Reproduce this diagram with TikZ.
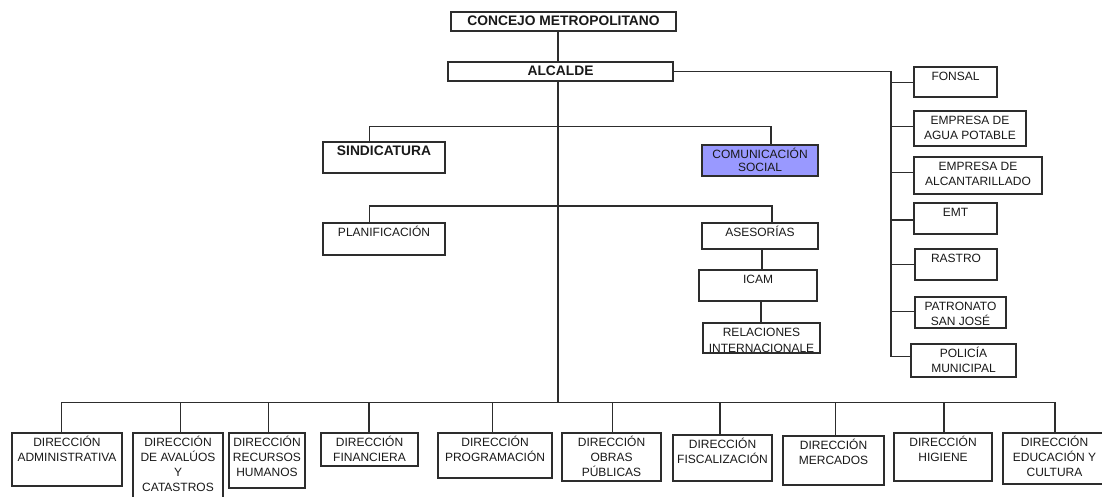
\documentclass[tikz,border=0pt]{standalone}
\usepackage{fontspec}
\setmainfont{Liberation Sans}
\usetikzlibrary{backgrounds}
\definecolor{ln}{RGB}{45,45,45}
\definecolor{comfill}{RGB}{153,153,255}
\newcommand{\bfnt}{\fontsize{13.8}{15}\selectfont\bfseries}
\newcommand{\obox}[7][]{%
  \pgfmathsetmacro\obw{#5-#3}%
  \pgfmathsetmacro\obh{#6-#4}%
  \node[orgbox,#1,minimum width=\obw pt,minimum height=\obh pt,anchor=north west] (#2) at (#3,#4) {};
  \node[orglbl,anchor=north] (#2-t) at ([yshift=-1.5pt]#2.north) {\rule{0pt}{11.5pt}#7};
}
\begin{document}
\begin{tikzpicture}[x=1pt,y=-1pt,
  orgbox/.style={draw=ln,line width=1.4pt,fill=white,inner sep=0pt,outer sep=0pt},
  orglbl/.style={inner sep=0pt,align=center,font=\fontsize{12}{15}\selectfont,text=black!90},
  conn/.style={draw=ln,line width=1.4pt}]
\useasboundingbox (0,0) rectangle (1102,497);
\begin{scope}[on background layer]
  \fill[white] (0,0) rectangle (1102,497);
\end{scope}
% top
\obox{conc}{451}{12}{676}{31}{\bfnt CONCEJO METROPOLITANO}
\obox{alc}{448}{62}{673}{81}{\bfnt ALCALDE}
\obox{sind}{323}{142}{445}{173}{\bfnt SINDICATURA}
\obox[fill=comfill]{comu}{702}{145}{818}{176}{COMUNICACIÓN\\[-2pt]SOCIAL}
\obox{plan}{323}{223}{445}{255}{PLANIFICACIÓN}
\obox{ases}{702}{223}{818}{249}{ASESORÍAS}
\obox{icam}{699}{270}{817}{301}{ICAM}
\obox{rel}{703}{323}{820}{353}{RELACIONES\\[1pt]INTERNACIONALE}
% right column
\obox{fonsal}{914}{67}{997}{97}{FONSAL}
\obox{agua}{914}{111}{1026}{146}{EMPRESA DE\\AGUA POTABLE}
\obox{alcan}{914}{157}{1042}{194}{EMPRESA DE\\ALCANTARILLADO}
\obox{emt}{914}{203}{997}{234}{EMT}
\obox{rastro}{915}{249}{997}{280}{RASTRO}
\obox{patro}{915}{297}{1006}{328}{PATRONATO\\SAN JOSÉ}
\obox{pol}{911}{344}{1016}{377}{POLICÍA\\MUNICIPAL}
% bottom row
\obox{adm}{12}{433}{122}{486}{DIRECCIÓN\\ADMINISTRATIVA}
\obox{aval}{133}{433}{223}{500}{DIRECCIÓN\\DE AVALÚOS\\Y\\CATASTROS}
\obox{rrhh}{229}{433}{305}{488}{DIRECCIÓN\\RECURSOS\\HUMANOS}
\obox{fin}{321}{433}{418}{466}{DIRECCIÓN\\FINANCIERA}
\obox{prog}{438}{433}{552}{478}{DIRECCIÓN\\PROGRAMACIÓN}
\obox{obras}{562}{433}{661}{481}{DIRECCIÓN\\OBRAS\\PÚBLICAS}
\obox{fisc}{673}{435}{772}{481}{DIRECCIÓN\\FISCALIZACIÓN}
\obox{merc}{783}{436}{884}{485}{DIRECCIÓN\\MERCADOS}
\obox{hig}{894}{433}{992}{481}{DIRECCIÓN\\HIGIENE}
\obox{edu}{1003}{433}{1106}{484}{DIRECCIÓN\\EDUCACIÓN Y\\CULTURA}
% connectors
\begin{scope}[on background layer]
  \coordinate (tB) at (558,402.3);
  \draw[conn] (conc.south -| tB) -- (tB);
  \coordinate (h1L) at (369.5,126.8);
  \coordinate (h1R) at (771,126.8);
  \draw[conn] (sind.north -| h1L) -- (h1L) -- (h1R) -- (comu.north -| h1R);
  \coordinate (h2L) at (369.5,205.8);
  \coordinate (h2R) at (772,205.8);
  \draw[conn] (plan.north -| h2L) -- (h2L) -- (h2R) -- (ases.north -| h2R);
  \coordinate (ai) at (762,0);
  \draw[conn] (ases.south -| ai) -- (icam.north -| ai);
  \coordinate (ir) at (761,0);
  \draw[conn] (icam.south -| ir) -- (rel.north -| ir);
  \coordinate (rT) at (891,71.7);
  \coordinate (rB) at (891,356.7);
  \draw[conn] (alc.east |- rT) -- (rT) -- (rB) -- (rB -| pol.west);
  \foreach \n/\yy in {fonsal/82.3,agua/126.7,alcan/172.7,emt/220,rastro/264.3,patro/311.7}{
    \coordinate (r-\n) at (891,\yy);
    \draw[conn] (r-\n) -- (r-\n -| \n.west);
  }
  \foreach \n/\xx in {adm/61.7,aval/180.3,rrhh/268.3,fin/369,prog/492.7,obras/612.3,fisc/720,merc/835.7,hig/944,edu/1055}{
    \coordinate (b-\n) at (\xx,402.3);
    \draw[conn] (b-\n) -- (\n.north -| b-\n);
  }
  \draw[conn] (b-adm) -- (b-edu);
\end{scope}
\end{tikzpicture}
\end{document}
